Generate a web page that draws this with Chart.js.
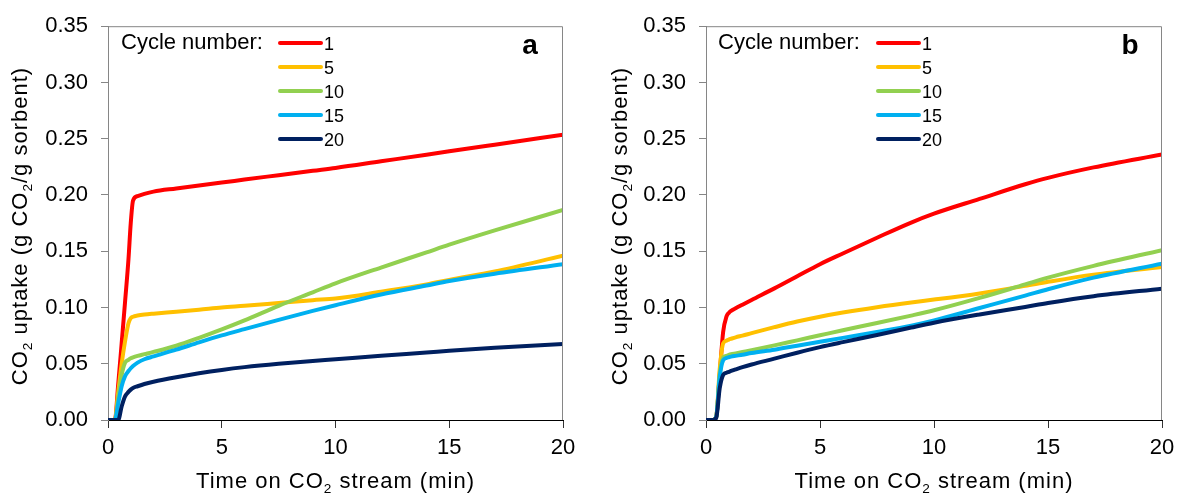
<!DOCTYPE html>
<html>
<head>
<meta charset="utf-8">
<script src="https://cdn.jsdelivr.net/npm/chart.js@4"></script>
<style>
html, body { margin: 0; padding: 0; background: #fff; }
#wrap { position: relative; width: 1177px; height: 496px; overflow: hidden; }
.box { position: absolute; top: 0; }
</style>
</head>
<body>
<div id="wrap">
  <div class="box" style="left:0"><canvas id="chartA" width="588" height="496"></canvas></div>
  <div class="box" style="left:588px"><canvas id="chartB" width="596" height="496"></canvas></div>
</div>
<script>
// --- datos ---
const timeMin = [0, 0.3, 0.45, 0.6, 0.75, 0.9, 1.0, 1.1, 1.3, 1.6, 2, 3, 4, 5, 6, 7.5, 9, 10, 12, 14, 15, 17, 20];

const cycles = ['1', '5', '10', '15', '20'];
const cycleColors = ['#FF0000', '#FFC000', '#92D050', '#00B0F0', '#002060'];

// panel a
const aCycle1  = [0, 0, 0.032, 0.068, 0.105, 0.143, 0.175, 0.195, 0.199, 0.201, 0.203, 0.2058, 0.2085, 0.211, 0.2137, 0.2176, 0.2215, 0.224, 0.2299, 0.2358, 0.2388, 0.2447, 0.2535];
const aCycle5  = [0, 0, 0.025, 0.05, 0.07, 0.086, 0.0905, 0.0918, 0.0928, 0.0937, 0.0945, 0.0962, 0.098, 0.100, 0.1015, 0.104, 0.1065, 0.108, 0.114, 0.1205, 0.1245, 0.132, 0.146];
const aCycle10 = [0, 0, 0.02, 0.04, 0.051, 0.0535, 0.0548, 0.0557, 0.057, 0.0585, 0.0605, 0.066, 0.073, 0.0805, 0.0885, 0.1015, 0.1135, 0.1215, 0.1355, 0.149, 0.1558, 0.1685, 0.1867];
const aCycle15 = [0, 0, 0.015, 0.03, 0.039, 0.0435, 0.046, 0.048, 0.051, 0.054, 0.0565, 0.0625, 0.069, 0.0752, 0.0808, 0.089, 0.097, 0.102, 0.1115, 0.1195, 0.1235, 0.130, 0.1385];
const aCycle20 = [0, 0, 0, 0.012, 0.021, 0.025, 0.027, 0.0285, 0.030, 0.032, 0.034, 0.038, 0.0415, 0.0445, 0.047, 0.050, 0.0525, 0.054, 0.0572, 0.060, 0.0615, 0.0642, 0.0675];

// panel b
const bCycle1  = [0, 0, 0.003, 0.04, 0.078, 0.092, 0.0952, 0.097, 0.0993, 0.1025, 0.1067, 0.117, 0.1278, 0.1385, 0.148, 0.162, 0.1755, 0.1834, 0.1965, 0.2095, 0.2152, 0.2245, 0.236];
const bCycle5  = [0, 0, 0.003, 0.045, 0.068, 0.0705, 0.0715, 0.0722, 0.0735, 0.075, 0.0772, 0.0825, 0.0875, 0.0918, 0.0955, 0.1003, 0.1045, 0.107, 0.1125, 0.1192, 0.1228, 0.1292, 0.136];
const bCycle10 = [0, 0, 0.003, 0.04, 0.0555, 0.057, 0.0578, 0.0584, 0.0592, 0.0604, 0.062, 0.0663, 0.0708, 0.0753, 0.0798, 0.0862, 0.0928, 0.0975, 0.1085, 0.1205, 0.1265, 0.137, 0.151];
const bCycle15 = [0, 0, 0.003, 0.038, 0.053, 0.0552, 0.0558, 0.0563, 0.057, 0.058, 0.0595, 0.0625, 0.066, 0.0695, 0.073, 0.0782, 0.0838, 0.0885, 0.0995, 0.1105, 0.1162, 0.1265, 0.139];
const bCycle20 = [0, 0, 0.002, 0.028, 0.04, 0.042, 0.0428, 0.0436, 0.045, 0.047, 0.0493, 0.0545, 0.0598, 0.0648, 0.0692, 0.0755, 0.0822, 0.0865, 0.0938, 0.1005, 0.104, 0.110, 0.1167];

const xTicks = [0, 5, 10, 15, 20];
const yTicks = [0, 0.05, 0.10, 0.15, 0.20, 0.25, 0.30, 0.35];

const FONT = '"Liberation Sans", Arial, sans-serif';
const yTitleParts = [{ t: 'CO' }, { t: '2', sub: true }, { t: ' uptake (g CO' }, { t: '2', sub: true }, { t: '/g sorbent)' }];
const xTitleParts = [{ t: 'Time on CO' }, { t: '2', sub: true }, { t: ' stream (min)' }];

// texto con subindices
function drawRich(ctx, parts, x, y, size, align) {
    let total = 0;
    parts.forEach(p => {
        ctx.font = (p.sub ? size * 0.62 : size) + 'px ' + FONT;
        p.w = ctx.measureText(p.t).width;
        total += p.w;
    });
    let cx = align === 'center' ? x - total / 2 : x;
    parts.forEach(p => {
        ctx.font = (p.sub ? size * 0.62 : size) + 'px ' + FONT;
        ctx.fillText(p.t, cx, p.sub ? y + size * 0.22 : y);
        cx += p.w;
    });
}

// marco, titulos de ejes, leyenda y letra del panel
const decorPlugin = {
    id: 'decor',
    afterDraw(chart, args, opts) {
        const ctx = chart.ctx;
        const a = chart.chartArea;
        ctx.save();
        // marco gris (arriba y derecha)
        ctx.strokeStyle = '#868686';
        ctx.lineWidth = 1;
        ctx.beginPath();
        ctx.moveTo(a.left, a.top + 0.5);
        ctx.lineTo(a.right - 0.5, a.top + 0.5);
        ctx.lineTo(a.right - 0.5, a.bottom);
        ctx.stroke();

        ctx.fillStyle = '#000';
        ctx.textAlign = 'left';
        ctx.textBaseline = 'alphabetic';
        ctx.letterSpacing = '1px';

        // titulo eje x
        drawRich(ctx, xTitleParts, (a.left + a.right) / 2, 488, 22, 'center');

        // titulo eje y
        ctx.save();
        ctx.translate(opts.yTitleX, 226);
        ctx.rotate(-Math.PI / 2);
        drawRich(ctx, yTitleParts, 0, 0, 22, 'center');
        ctx.restore();

        ctx.letterSpacing = '0px';
        // leyenda
        ctx.font = '22px ' + FONT;
        ctx.fillText('Cycle number:', opts.legendTitleX, 49);
        cycles.forEach((c, i) => {
            const y = 43 + i * 24;
            ctx.strokeStyle = cycleColors[i];
            ctx.lineWidth = 4;
            ctx.lineCap = 'round';
            ctx.beginPath();
            ctx.moveTo(opts.legendLineX, y);
            ctx.lineTo(opts.legendLineX + 41, y);
            ctx.stroke();
            ctx.font = '18px ' + FONT;
            ctx.fillText(c, opts.legendLineX + 44, y + 7);
        });

        // letra del panel
        ctx.font = 'bold 28px ' + FONT;
        ctx.textAlign = 'center';
        ctx.fillText(opts.letter, opts.letterX, 54);
        ctx.restore();
    }
};

function makeChart(id, series, cfg) {
    // se dibujan en orden inverso para que el ciclo 20 quede encima
    const datasets = series.map((vals, i) => ({
        label: cycles[i],
        data: timeMin.map((t, k) => ({ x: t, y: vals[k] })),
        borderColor: cycleColors[i],
        borderWidth: 4,
        pointRadius: 0,
        cubicInterpolationMode: 'monotone',
        borderCapStyle: 'round',
        fill: false
    })).reverse();

    return new Chart(document.getElementById(id), {
        type: 'line',
        data: { datasets },
        plugins: [decorPlugin],
        options: {
            responsive: false,
            animation: false,
            layout: { padding: { top: 24, right: cfg.padRight, left: 0, bottom: 0 } },
            plugins: {
                legend: { display: false },
                tooltip: { enabled: false },
                decor: cfg
            },
            scales: {
                x: {
                    type: 'linear',
                    min: 0, max: 20,
                    afterBuildTicks: s => { s.ticks = xTicks.map(v => ({ value: v })); },
                    afterFit: s => { s.height = 76; },
                    ticks: { font: { family: FONT, size: 22 }, color: '#000', padding: 7, maxRotation: 0 },
                    grid: { drawOnChartArea: false, drawTicks: true, tickLength: 8, color: '#333' },
                    border: { color: '#000', width: 1 }
                },
                y: {
                    min: 0, max: 0.35,
                    afterBuildTicks: s => { s.ticks = yTicks.map(v => ({ value: v })); },
                    afterFit: s => { s.width = cfg.yWidth; },
                    ticks: {
                        font: { family: FONT, size: 22 }, color: '#000', padding: 13,
                        callback: v => Number(v).toFixed(2)
                    },
                    grid: { drawOnChartArea: false, drawTicks: true, tickLength: 7, color: '#868686' },
                    border: { color: '#868686', width: 1 }
                }
            }
        }
    });
}

makeChart('chartA', [aCycle1, aCycle5, aCycle10, aCycle15, aCycle20], {
    padRight: 25, yWidth: 108, yTitleX: 27, legendTitleX: 121, legendLineX: 280, letter: 'a', letterX: 530
});
makeChart('chartB', [bCycle1, bCycle5, bCycle10, bCycle15, bCycle20], {
    padRight: 22, yWidth: 118, yTitleX: 39, legendTitleX: 130, legendLineX: 290, letter: 'b', letterX: 542
});
</script>
</body>
</html>
